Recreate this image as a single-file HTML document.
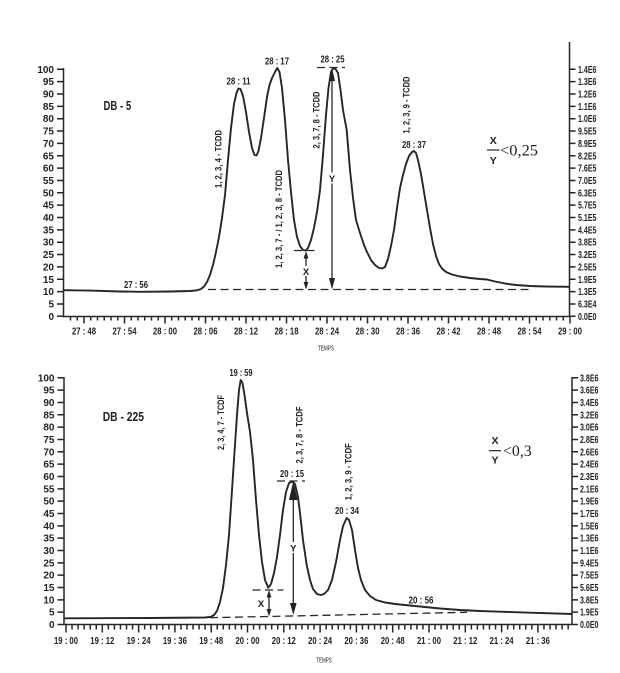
<!DOCTYPE html>
<html><head><meta charset="utf-8"><style>html,body{margin:0;padding:0;background:#fff;}svg{display:block}</style></head>
<body>
<svg width="620" height="673" viewBox="0 0 620 673" xmlns="http://www.w3.org/2000/svg" font-family="'Liberation Sans Narrow','Liberation Sans',sans-serif" font-weight="bold" fill="#222">
<!-- ================= TOP CHART ================= -->
<g stroke="#262626" stroke-width="1.5" fill="none">
<path d="M63.5,68 V316.5 H569.5 M569.5,42 V316.5"/>
<path d="M70.5,316.5 v4 m6.75,-4 v4 m6.75,-4 v7
m6.75,-7 v4 m6.75,-4 v4 m6.75,-4 v4 m6.75,-4 v4 m6.75,-4 v4 m6.75,-4 v7
m6.75,-7 v4 m6.75,-4 v4 m6.75,-4 v4 m6.75,-4 v4 m6.75,-4 v4 m6.75,-4 v7
m6.75,-7 v4 m6.75,-4 v4 m6.75,-4 v4 m6.75,-4 v4 m6.75,-4 v4 m6.75,-4 v7
m6.75,-7 v4 m6.75,-4 v4 m6.75,-4 v4 m6.75,-4 v4 m6.75,-4 v4 m6.75,-4 v7
m6.75,-7 v4 m6.75,-4 v4 m6.75,-4 v4 m6.75,-4 v4 m6.75,-4 v4 m6.75,-4 v7
m6.75,-7 v4 m6.75,-4 v4 m6.75,-4 v4 m6.75,-4 v4 m6.75,-4 v4 m6.75,-4 v7
m6.75,-7 v4 m6.75,-4 v4 m6.75,-4 v4 m6.75,-4 v4 m6.75,-4 v4 m6.75,-4 v7
m6.75,-7 v4 m6.75,-4 v4 m6.75,-4 v4 m6.75,-4 v4 m6.75,-4 v4 m6.75,-4 v7
m6.75,-7 v4 m6.75,-4 v4 m6.75,-4 v4 m6.75,-4 v4 m6.75,-4 v4 m6.75,-4 v7
m6.75,-7 v4 m6.75,-4 v4 m6.75,-4 v4 m6.75,-4 v4 m6.75,-4 v4 m6.75,-4 v7
m6.75,-7 v4 m6.75,-4 v4 m6.75,-4 v4 m6.75,-4 v4 m6.75,-4 v4 m6.75,-4 v7
m6.75,-7 v4 m6.75,-4 v4 m6.75,-4 v4 m6.75,-4 v4 m6.75,-4 v4 m6.75,-4 v7"/>
<path d="M57,69.3 h6.5 m-6.5,12.35 h6.5 m-6.5,12.35 h6.5 m-6.5,12.35 h6.5 m-6.5,12.35 h6.5 m-6.5,12.35 h6.5 m-6.5,12.35 h6.5 m-6.5,12.35 h6.5 m-6.5,12.35 h6.5 m-6.5,12.35 h6.5 m-6.5,12.35 h6.5 m-6.5,12.35 h6.5 m-6.5,12.35 h6.5 m-6.5,12.35 h6.5 m-6.5,12.35 h6.5 m-6.5,12.35 h6.5 m-6.5,12.35 h6.5 m-6.5,12.35 h6.5 m-6.5,12.35 h6.5 m-6.5,12.35 h6.5 m-6.5,12.35 h6.5"/>
<path d="M569.5,69.3 h6 m-6,12.35 h6 m-6,12.35 h6 m-6,12.35 h6 m-6,12.35 h6 m-6,12.35 h6 m-6,12.35 h6 m-6,12.35 h6 m-6,12.35 h6 m-6,12.35 h6 m-6,12.35 h6 m-6,12.35 h6 m-6,12.35 h6 m-6,12.35 h6 m-6,12.35 h6 m-6,12.35 h6 m-6,12.35 h6 m-6,12.35 h6 m-6,12.35 h6 m-6,12.35 h6 m-6,12.35 h6"/>
</g>
<g font-size="10" text-anchor="end">
<text x="54" y="72.8">100</text><text x="54" y="85.15">95</text><text x="54" y="97.5">90</text><text x="54" y="109.85">85</text><text x="54" y="122.2">80</text><text x="54" y="134.55">75</text><text x="54" y="146.9">70</text><text x="54" y="159.25">65</text><text x="54" y="171.6">60</text><text x="54" y="183.95">55</text><text x="54" y="196.3">50</text><text x="54" y="208.65">45</text><text x="54" y="221">40</text><text x="54" y="233.35">35</text><text x="54" y="245.7">30</text><text x="54" y="258.05">25</text><text x="54" y="270.4">20</text><text x="54" y="282.75">15</text><text x="54" y="295.1">10</text><text x="54" y="307.45">5</text><text x="54" y="319.8">0</text>
</g>
<g font-size="10">
<text x="578" y="72.8" textLength="18.5" lengthAdjust="spacingAndGlyphs">1.4E6</text>
<text x="578" y="85.15" textLength="18.5" lengthAdjust="spacingAndGlyphs">1.3E6</text>
<text x="578" y="97.5" textLength="18.5" lengthAdjust="spacingAndGlyphs">1.2E6</text>
<text x="578" y="109.85" textLength="18.5" lengthAdjust="spacingAndGlyphs">1.1E6</text>
<text x="578" y="122.2" textLength="18.5" lengthAdjust="spacingAndGlyphs">1.0E6</text>
<text x="578" y="134.55" textLength="18.5" lengthAdjust="spacingAndGlyphs">9.5E5</text>
<text x="578" y="146.9" textLength="18.5" lengthAdjust="spacingAndGlyphs">8.9E5</text>
<text x="578" y="159.25" textLength="18.5" lengthAdjust="spacingAndGlyphs">8.2E5</text>
<text x="578" y="171.6" textLength="18.5" lengthAdjust="spacingAndGlyphs">7.6E5</text>
<text x="578" y="183.95" textLength="18.5" lengthAdjust="spacingAndGlyphs">7.0E5</text>
<text x="578" y="196.3" textLength="18.5" lengthAdjust="spacingAndGlyphs">6.3E5</text>
<text x="578" y="208.65" textLength="18.5" lengthAdjust="spacingAndGlyphs">5.7E5</text>
<text x="578" y="221" textLength="18.5" lengthAdjust="spacingAndGlyphs">5.1E5</text>
<text x="578" y="233.35" textLength="18.5" lengthAdjust="spacingAndGlyphs">4.4E5</text>
<text x="578" y="245.7" textLength="18.5" lengthAdjust="spacingAndGlyphs">3.8E5</text>
<text x="578" y="258.05" textLength="18.5" lengthAdjust="spacingAndGlyphs">3.2E5</text>
<text x="578" y="270.4" textLength="18.5" lengthAdjust="spacingAndGlyphs">2.5E5</text>
<text x="578" y="282.75" textLength="18.5" lengthAdjust="spacingAndGlyphs">1.9E5</text>
<text x="578" y="295.1" textLength="18.5" lengthAdjust="spacingAndGlyphs">1.3E5</text>
<text x="578" y="307.45" textLength="18.5" lengthAdjust="spacingAndGlyphs">6.3E4</text>
<text x="578" y="319.8" textLength="18.5" lengthAdjust="spacingAndGlyphs">0.0E0</text>
</g>
<g font-size="10.5" text-anchor="middle">
<text x="84" y="334.5" textLength="24" lengthAdjust="spacingAndGlyphs">27 : 48</text>
<text x="124.5" y="334.5" textLength="24" lengthAdjust="spacingAndGlyphs">27 : 54</text>
<text x="165" y="334.5" textLength="24" lengthAdjust="spacingAndGlyphs">28 : 00</text>
<text x="205.5" y="334.5" textLength="24" lengthAdjust="spacingAndGlyphs">28 : 06</text>
<text x="246" y="334.5" textLength="24" lengthAdjust="spacingAndGlyphs">28 : 12</text>
<text x="286.5" y="334.5" textLength="24" lengthAdjust="spacingAndGlyphs">28 : 18</text>
<text x="327" y="334.5" textLength="24" lengthAdjust="spacingAndGlyphs">28 : 24</text>
<text x="367.5" y="334.5" textLength="24" lengthAdjust="spacingAndGlyphs">28 : 30</text>
<text x="408" y="334.5" textLength="24" lengthAdjust="spacingAndGlyphs">28 : 36</text>
<text x="448.5" y="334.5" textLength="24" lengthAdjust="spacingAndGlyphs">28 : 42</text>
<text x="489" y="334.5" textLength="24" lengthAdjust="spacingAndGlyphs">28 : 48</text>
<text x="529.5" y="334.5" textLength="24" lengthAdjust="spacingAndGlyphs">28 : 54</text>
<text x="570" y="334.5" textLength="24" lengthAdjust="spacingAndGlyphs">29 : 00</text>
</g>
<text x="326" y="350.5" font-size="7" font-weight="normal" text-anchor="middle" textLength="16" lengthAdjust="spacingAndGlyphs">TEMPS</text>

<!-- top curve -->
<polyline fill="none" stroke="#262626" stroke-width="1.9" stroke-linejoin="round" points="63.5,290.2 90,290.6 120,291.5 140,291.8 170,291.5 190,291 197,290.3 201,289 204,286.5 207,282 210,275 213,265 216,252 219,237 222,218 225,195 228,160 231,128 234,104 236.5,93 238.5,88.5 240.5,89 243,96 246,112 249,132 252,148 254.5,155 256.5,155.5 258.5,151 261,138 264,118 267,97 269.5,85 272,78 275,72 277.3,68 279.5,72 282,88 285,120 288,160 291,192 294,220 297,237 300,246 303,250 305.5,250.5 308,248 311,240 314,228 317,212 320,190 323,155 326,115 328.5,88 331,72 333,68.5 335.5,69 338,73 340.5,90 343,110 346.7,130 350,170 353,198 356,220 360,233 364,245 367,252 371,260 375,265 379,268 382,268.5 385,267 388,259 391,246 394,230 397,208 400,188 403,175 406,164 409,156 412,152 414,151 416,153 418,160 421,174 424,192 427,210 430,228 433,244 436,256 439,264 442,268.5 446,272 452,274.5 460,276.5 470,278 480,279 487,279.5 495,281.5 505,283.5 516,285 530,286 545,286.5 569.5,286.8"/>

<g stroke="#262626" stroke-width="1.3" stroke-dasharray="8 4.5" fill="none">
<path d="M208,289.5 H533"/>
<path d="M294,250.5 H318.5"/>
<path d="M317,67.5 H345"/>
</g>
<!-- arrows top -->
<g stroke="#262626" stroke-width="1.3" fill="none">
<path d="M306,257 V283"/>
<path d="M332,78 V280"/>
</g>
<polygon points="306,251 303.6,258.5 308.4,258.5"/>
<polygon points="306,289.5 303.6,282 308.4,282"/>
<polygon points="332,68 329,81 335,81"/>
<polygon points="332,289.5 329,278 335,278"/>
<rect x="302" y="266" width="8" height="10" fill="#fff"/>
<text x="306" y="274.8" font-size="9.5" text-anchor="middle">X</text>
<rect x="328" y="172.5" width="8" height="11" fill="#fff"/>
<text x="332" y="181.8" font-size="9.5" text-anchor="middle">Y</text>

<!-- top labels -->
<g font-size="10" text-anchor="middle">
<text x="238.5" y="84.6" textLength="24" lengthAdjust="spacingAndGlyphs">28 : 11</text>
<text x="277" y="64.6" textLength="24" lengthAdjust="spacingAndGlyphs">28 : 17</text>
<text x="332.5" y="62.6" textLength="24" lengthAdjust="spacingAndGlyphs">28 : 25</text>
<text x="414" y="147.8" textLength="24" lengthAdjust="spacingAndGlyphs">28 : 37</text>
<text x="136" y="287.8" textLength="24" lengthAdjust="spacingAndGlyphs">27 : 56</text>
</g>
<text x="103.5" y="109.8" font-size="13" textLength="27.7" lengthAdjust="spacingAndGlyphs">DB - 5</text>
<g font-size="9.5" text-anchor="middle">
<text transform="translate(218,159) rotate(-90)" dy="3.4" textLength="58" lengthAdjust="spacingAndGlyphs">1, 2, 3, 4 - TCDD</text>
<text transform="translate(278.5,219) rotate(-90)" dy="3.4" textLength="98" lengthAdjust="spacingAndGlyphs">1, 2, 3, 7 - / 1, 2, 3, 8 - TCDD</text>
<text transform="translate(316,120) rotate(-90)" dy="3.4" textLength="57" lengthAdjust="spacingAndGlyphs">2, 3, 7, 8 - TCDD</text>
<text transform="translate(406,105) rotate(-90)" dy="3.4" textLength="57" lengthAdjust="spacingAndGlyphs">1, 2, 3, 9 - TCDD</text>
</g>
<!-- fraction top -->
<text x="493.3" y="144" font-size="10.5" text-anchor="middle">X</text>
<path d="M487,150 H499.5" stroke="#262626" stroke-width="1.2"/>
<text x="493.3" y="164" font-size="10.5" text-anchor="middle">Y</text>
<text x="500" y="155.5" font-family="'Liberation Serif',serif" font-weight="normal" font-size="15.5" textLength="38" lengthAdjust="spacingAndGlyphs">&lt;0,25</text>

<!-- ================= BOTTOM CHART ================= -->
<g stroke="#262626" stroke-width="1.5" fill="none">
<path d="M64,377 V624.5 H572 M572,377 V624.5"/>
<path d="M66,624.5 v8
m6.05,-8 v5 m6.05,-5 v5 m6.05,-5 v5 m6.05,-5 v5 m6.05,-5 v5 m6.05,-5 v8
m6.05,-8 v5 m6.05,-5 v5 m6.05,-5 v5 m6.05,-5 v5 m6.05,-5 v5 m6.05,-5 v8
m6.05,-8 v5 m6.05,-5 v5 m6.05,-5 v5 m6.05,-5 v5 m6.05,-5 v5 m6.05,-5 v8
m6.05,-8 v5 m6.05,-5 v5 m6.05,-5 v5 m6.05,-5 v5 m6.05,-5 v5 m6.05,-5 v8
m6.05,-8 v5 m6.05,-5 v5 m6.05,-5 v5 m6.05,-5 v5 m6.05,-5 v5 m6.05,-5 v8
m6.05,-8 v5 m6.05,-5 v5 m6.05,-5 v5 m6.05,-5 v5 m6.05,-5 v5 m6.05,-5 v8
m6.05,-8 v5 m6.05,-5 v5 m6.05,-5 v5 m6.05,-5 v5 m6.05,-5 v5 m6.05,-5 v8
m6.05,-8 v5 m6.05,-5 v5 m6.05,-5 v5 m6.05,-5 v5 m6.05,-5 v5 m6.05,-5 v8
m6.05,-8 v5 m6.05,-5 v5 m6.05,-5 v5 m6.05,-5 v5 m6.05,-5 v5 m6.05,-5 v8
m6.05,-8 v5 m6.05,-5 v5 m6.05,-5 v5 m6.05,-5 v5 m6.05,-5 v5 m6.05,-5 v8
m6.05,-8 v5 m6.05,-5 v5 m6.05,-5 v5 m6.05,-5 v5 m6.05,-5 v5 m6.05,-5 v8
m6.05,-8 v5 m6.05,-5 v5 m6.05,-5 v5 m6.05,-5 v5 m6.05,-5 v5 m6.05,-5 v8
m6.05,-8 v5 m6.05,-5 v5 m6.05,-5 v5 m6.05,-5 v5 m6.05,-5 v5 m6.05,-5 v8
m6.05,-8 v5 m6.05,-5 v5 m6.05,-5 v5 m6.05,-5 v5 m6.05,-5 v5"/>
<path d="M57.5,377.8 h6.5 m-6.5,12.335 h6.5 m-6.5,12.335 h6.5 m-6.5,12.335 h6.5 m-6.5,12.335 h6.5 m-6.5,12.335 h6.5 m-6.5,12.335 h6.5 m-6.5,12.335 h6.5 m-6.5,12.335 h6.5 m-6.5,12.335 h6.5 m-6.5,12.335 h6.5 m-6.5,12.335 h6.5 m-6.5,12.335 h6.5 m-6.5,12.335 h6.5 m-6.5,12.335 h6.5 m-6.5,12.335 h6.5 m-6.5,12.335 h6.5 m-6.5,12.335 h6.5 m-6.5,12.335 h6.5 m-6.5,12.335 h6.5 m-6.5,12.335 h6.5"/>
<path d="M572,377.8 h6 m-6,12.335 h6 m-6,12.335 h6 m-6,12.335 h6 m-6,12.335 h6 m-6,12.335 h6 m-6,12.335 h6 m-6,12.335 h6 m-6,12.335 h6 m-6,12.335 h6 m-6,12.335 h6 m-6,12.335 h6 m-6,12.335 h6 m-6,12.335 h6 m-6,12.335 h6 m-6,12.335 h6 m-6,12.335 h6 m-6,12.335 h6 m-6,12.335 h6 m-6,12.335 h6 m-6,12.335 h6"/>
</g>
<g font-size="10" text-anchor="end">
<text x="54.5" y="381.3">100</text><text x="54.5" y="393.6">95</text><text x="54.5" y="406">90</text><text x="54.5" y="418.3">85</text><text x="54.5" y="430.6">80</text><text x="54.5" y="443">75</text><text x="54.5" y="455.3">70</text><text x="54.5" y="467.6">65</text><text x="54.5" y="480">60</text><text x="54.5" y="492.3">55</text><text x="54.5" y="504.7">50</text><text x="54.5" y="517">45</text><text x="54.5" y="529.3">40</text><text x="54.5" y="541.7">35</text><text x="54.5" y="554">30</text><text x="54.5" y="566.3">25</text><text x="54.5" y="578.7">20</text><text x="54.5" y="591">15</text><text x="54.5" y="603.3">10</text><text x="54.5" y="615.7">5</text><text x="54.5" y="628">0</text>
</g>
<g font-size="10">
<text x="580" y="381.3" textLength="18.5" lengthAdjust="spacingAndGlyphs">3.8E6</text>
<text x="580" y="393.6" textLength="18.5" lengthAdjust="spacingAndGlyphs">3.6E6</text>
<text x="580" y="406" textLength="18.5" lengthAdjust="spacingAndGlyphs">3.4E6</text>
<text x="580" y="418.3" textLength="18.5" lengthAdjust="spacingAndGlyphs">3.2E6</text>
<text x="580" y="430.6" textLength="18.5" lengthAdjust="spacingAndGlyphs">3.0E6</text>
<text x="580" y="443" textLength="18.5" lengthAdjust="spacingAndGlyphs">2.8E6</text>
<text x="580" y="455.3" textLength="18.5" lengthAdjust="spacingAndGlyphs">2.6E6</text>
<text x="580" y="467.6" textLength="18.5" lengthAdjust="spacingAndGlyphs">2.4E6</text>
<text x="580" y="480" textLength="18.5" lengthAdjust="spacingAndGlyphs">2.3E6</text>
<text x="580" y="492.3" textLength="18.5" lengthAdjust="spacingAndGlyphs">2.1E6</text>
<text x="580" y="504.7" textLength="18.5" lengthAdjust="spacingAndGlyphs">1.9E6</text>
<text x="580" y="517" textLength="18.5" lengthAdjust="spacingAndGlyphs">1.7E6</text>
<text x="580" y="529.3" textLength="18.5" lengthAdjust="spacingAndGlyphs">1.5E6</text>
<text x="580" y="541.7" textLength="18.5" lengthAdjust="spacingAndGlyphs">1.3E6</text>
<text x="580" y="554" textLength="18.5" lengthAdjust="spacingAndGlyphs">1.1E6</text>
<text x="580" y="566.3" textLength="18.5" lengthAdjust="spacingAndGlyphs">9.4E5</text>
<text x="580" y="578.7" textLength="18.5" lengthAdjust="spacingAndGlyphs">7.5E5</text>
<text x="580" y="591" textLength="18.5" lengthAdjust="spacingAndGlyphs">5.6E5</text>
<text x="580" y="603.3" textLength="18.5" lengthAdjust="spacingAndGlyphs">3.8E5</text>
<text x="580" y="615.7" textLength="18.5" lengthAdjust="spacingAndGlyphs">1.9E5</text>
<text x="580" y="628" textLength="18.5" lengthAdjust="spacingAndGlyphs">0.0E0</text>
</g>
<g font-size="10.5" text-anchor="middle">
<text x="66" y="644" textLength="24" lengthAdjust="spacingAndGlyphs">19 : 00</text>
<text x="102.3" y="644" textLength="24" lengthAdjust="spacingAndGlyphs">19 : 12</text>
<text x="138.6" y="644" textLength="24" lengthAdjust="spacingAndGlyphs">19 : 24</text>
<text x="174.9" y="644" textLength="24" lengthAdjust="spacingAndGlyphs">19 : 36</text>
<text x="211.2" y="644" textLength="24" lengthAdjust="spacingAndGlyphs">19 : 48</text>
<text x="247.5" y="644" textLength="24" lengthAdjust="spacingAndGlyphs">20 : 00</text>
<text x="283.8" y="644" textLength="24" lengthAdjust="spacingAndGlyphs">20 : 12</text>
<text x="320.1" y="644" textLength="24" lengthAdjust="spacingAndGlyphs">20 : 24</text>
<text x="356.4" y="644" textLength="24" lengthAdjust="spacingAndGlyphs">20 : 36</text>
<text x="392.7" y="644" textLength="24" lengthAdjust="spacingAndGlyphs">20 : 48</text>
<text x="429" y="644" textLength="24" lengthAdjust="spacingAndGlyphs">21 : 00</text>
<text x="465.3" y="644" textLength="24" lengthAdjust="spacingAndGlyphs">21 : 12</text>
<text x="501.6" y="644" textLength="24" lengthAdjust="spacingAndGlyphs">21 : 24</text>
<text x="537.9" y="644" textLength="24" lengthAdjust="spacingAndGlyphs">21 : 36</text>
</g>
<text x="324" y="662.5" font-size="7" font-weight="normal" text-anchor="middle" textLength="15.5" lengthAdjust="spacingAndGlyphs">TEMPS</text>

<!-- bottom curve -->
<polyline fill="none" stroke="#262626" stroke-width="1.9" stroke-linejoin="round" points="64,618.3 150,618 205,617.5 211,616.8 214,615 217,611 220,602 223,588 226,565 229,535 232,490 234.5,452 237,415 239,390 240.7,380 242.5,383 244.5,395 247,413 250,432 253,460 256,500 259,535 262,562 265,580 268.3,587.7 271,584 274,573 277,557 280,535 283,510 286,492 289,483 292.5,481.5 295,484 298,497 300,513 303,540 306.7,565 310,580 313,589 317,594 320.7,595 324,594 328,590 332,580 336,562 340,540 343,526 346.7,518 349,520 352,530 355,550 358,568 361,580 365,590 370,596 376,600 385,602.5 395,604 410,605.5 425,607 440,608.5 460,610 480,611 500,611.7 530,612.7 572,614"/>

<g stroke="#262626" stroke-width="1.3" stroke-dasharray="8 4.5" fill="none">
<path d="M210,617.7 L467,612.3"/>
<path d="M252.5,590 H283.5"/>
<path d="M277,481 H305"/>
</g>
<g stroke="#262626" stroke-width="1.3" fill="none">
<path d="M269,596 V610"/>
<path d="M293.3,495 V606"/>
</g>
<polygon points="269,590 266.6,597.5 271.4,597.5"/>
<polygon points="269,616.5 266.6,609 271.4,609"/>
<polygon points="293.3,481 289,500 297.6,500"/>
<polygon points="293.3,615 290,603 296.6,603"/>
<text x="261" y="606.8" font-size="9.5" text-anchor="middle">X</text>
<rect x="289.3" y="542" width="8" height="11" fill="#fff"/>
<text x="293.3" y="551.3" font-size="9.5" text-anchor="middle">Y</text>

<g font-size="10" text-anchor="middle">
<text x="241" y="376.2" textLength="23" lengthAdjust="spacingAndGlyphs">19 : 59</text>
<text x="292" y="476.8" textLength="24" lengthAdjust="spacingAndGlyphs">20 : 15</text>
<text x="347" y="514.2" textLength="24" lengthAdjust="spacingAndGlyphs">20 : 34</text>
<text x="421" y="603.5" textLength="25" lengthAdjust="spacingAndGlyphs">20 : 56</text>
</g>
<text x="102.7" y="420.8" font-size="13" textLength="41.3" lengthAdjust="spacingAndGlyphs">DB - 225</text>
<g font-size="9.5" text-anchor="middle">
<text transform="translate(220.7,422.5) rotate(-90)" dy="3.4" textLength="55" lengthAdjust="spacingAndGlyphs">2, 3, 4, 7 - TCDF</text>
<text transform="translate(299.3,435) rotate(-90)" dy="3.4" textLength="57" lengthAdjust="spacingAndGlyphs">2, 3, 7, 8 - TCDF</text>
<text transform="translate(348.3,471.7) rotate(-90)" dy="3.4" textLength="57" lengthAdjust="spacingAndGlyphs">1, 2, 3, 9 - TCDF</text>
</g>
<text x="495" y="444" font-size="10.5" text-anchor="middle">X</text>
<path d="M489,450.7 H501" stroke="#262626" stroke-width="1.2"/>
<text x="495" y="463.5" font-size="10.5" text-anchor="middle">Y</text>
<text x="503" y="456" font-family="'Liberation Serif',serif" font-weight="normal" font-size="15.5" textLength="28.7" lengthAdjust="spacingAndGlyphs">&lt;0,3</text>
</svg>
</body></html>
